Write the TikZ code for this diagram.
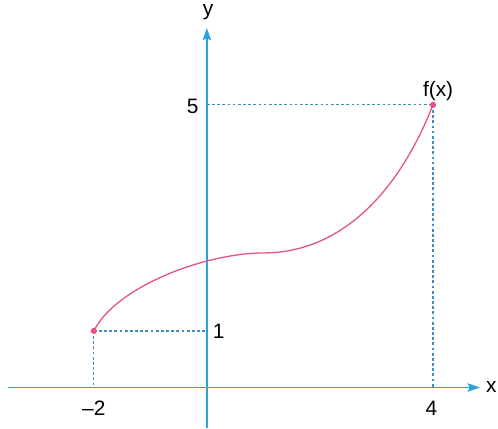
\documentclass[tikz,border=0pt]{standalone}
\usepackage{fontspec}
\setmainfont{Liberation Sans}
\usepackage{xcolor}
\usepackage{tikz}
\usetikzlibrary{arrows.meta,positioning,calc}
\definecolor{axisblue}{HTML}{2AA3DC}
\definecolor{guideblue}{HTML}{3F8CBE}
\definecolor{curvepink}{HTML}{E2538A}
\tikzset{
  axisline/.style={draw=axisblue,line width=.85pt,
    -{Stealth[length=2.2mm,width=1.5mm,inset=.4mm]}},
  guide/.style={draw=guideblue,line width=.55pt,dash pattern=on 1.4pt off 1.2pt},
  curveline/.style={draw=curvepink,line width=.65pt},
  dot/.style={circle,fill=curvepink,inner sep=0pt,minimum size=1.1mm},
  lbl/.style={font=\fontsize{10.5}{12}\selectfont,inner sep=1pt}
}
\begin{document}
\begin{tikzpicture}
\useasboundingbox (-3.66,-0.72) rectangle (5.15,6.855);

\coordinate (O) at (0,0);
\coordinate (xl) at (-3.52,0);
\coordinate (xr) at (4.83,0);
\coordinate (yb) at (0,-0.72);
\coordinate (yt) at (0,6.36);

\draw[axisline] (xl)--(xr);
\draw[axisline] (yb)--(yt);

\coordinate (ax) at (-2,0);
\coordinate (ay) at (0,1);
\coordinate (bx) at (4,0);
\coordinate (by) at (0,5);
\coordinate (mid) at (1,2.38);

\draw[guide] (-2,1)--(ay);
\draw[guide] (-2,1)--(ax);
\draw[guide] (by)--(4,5);
\draw[guide] (4,5)--(bx);

\node[dot] (A) at (-2,1) {};
\node[dot] (B) at (4,5) {};

\draw[curveline] (A.center) .. controls (-1.6,1.8) and (0,2.38) .. (mid)
  .. controls (2.3,2.38) and (3.35,3.35) .. (B.center);

\node[lbl] (ylab) at (0.02,6.64) {y};
\node[lbl] (xlab) at (5.03,0) {x};
\node[lbl] (five) at (-0.25,4.98) {5};
\node[lbl] (one) at (0.21,1.0) {1};
\node[lbl] (mtwo) at (-2,-0.365) {\textendash2};
\node[lbl] (four) at (3.97,-0.365) {4};
\node[lbl] (fx) at (4.09,5.25) {f(x)};
\end{tikzpicture}
\end{document}
